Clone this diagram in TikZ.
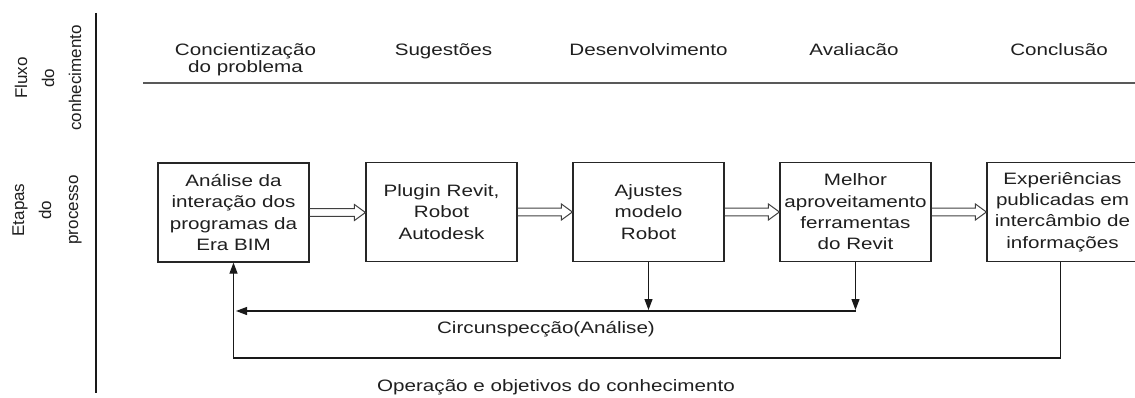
\documentclass[tikz,border=0pt]{standalone}
\usepackage{fontspec}
\setmainfont[FakeStretch=1.25]{Liberation Sans}
\newfontfamily\rotfont{Liberation Sans}
\usetikzlibrary{calc,arrows.meta}
\begin{document}
\begin{tikzpicture}[x=1pt,y=-1pt,
  every node/.style={text=black!88, inner sep=0pt},
  txt/.style={font=\fontsize{16.5}{16.7}\selectfont},
  stage/.style={draw=black!85, line width=1.2pt, minimum width=151pt,
    minimum height=99pt, align=center, font=\fontsize{16.5}{21.3}\selectfont},
  side/.style={rotate=90, align=center, font=\rotfont\fontsize{17}{27}\selectfont},
  hollow/.style={draw=black!75, line width=1pt, line join=miter,
    to path={let \p1=(\tikztostart), \p2=(\tikztotarget) in
      (\x1,\y1+3.8pt) -- (\x2-11pt,\y1+3.8pt) -- (\x2-11pt,\y1+8pt) -- (\x2,\y1)
      -- (\x2-11pt,\y1-8pt) -- (\x2-11pt,\y1-3.8pt) -- (\x1,\y1-3.8pt)}},
  arr/.style={draw=black!90, line width=1.2pt, -{Triangle[width=8pt,length=11pt]}},
  rule/.style={draw=black!65, line width=2pt},
  axis/.style={draw=black!90, line width=2pt}
]
\useasboundingbox (0,0) rectangle (1135,398);
\clip (0,0) rectangle (1135,398);

% left axis with its two rotated labels
\coordinate (vt) at (96,13);
\coordinate (vb) at (96,393);
\draw[axis] (vt) -- (vb);
\node[side] (flux) at (48,78) {Fluxo\\do\\conhecimento};
\node[side] (etap) at (47,210) {Etapas\\do\\processo};

% phase headings and their rule
\node[txt, anchor=base, align=center] (h1) at (245.5,72.5) {Concientização\\do problema};
\node[txt, anchor=base] (h2) at (443.5,56) {Sugestões};
\node[txt, anchor=base] (h3) at (648.5,56) {Desenvolvimento};
\node[txt, anchor=base] (h4) at (854,56) {Avaliacão};
\node[txt, anchor=base] (h5) at (1059,56) {Conclusão};
\coordinate (rl) at (143,83);
\coordinate (rr) at (1135,83);
\draw[rule] (rl) -- (rr);

% process steps
\node[stage] (b1) at (233.5,212.5) {Análise da\\interação dos\\programas da\\Era BIM};
\node[stage] (b2) at (441.5,212) {Plugin Revit,\\Robot\\Autodesk};
\node[stage] (b3) at (648.5,212) {Ajustes\\modelo\\Robot};
\node[stage] (b4) at (855.5,212) {Melhor\\aproveitamento\\ferramentas\\do Revit};
\node[stage] (b5) at (1062.5,212) {Experiências\\publicadas em\\intercâmbio de\\informações};

\draw[hollow] (b1.east) to (b2.west);
\draw[hollow] (b2.east) to (b3.west);
\draw[hollow] (b3.east) to (b4.west);
\draw[hollow] (b4.east) to (b5.west);

% feedback loops
\coordinate (fbl) at (236,311);
\coordinate (bot) at (0,358);
\draw[arr, shorten >=1pt] (b3.south) -- (b3.south |- fbl);
\draw[arr, shorten >=1pt] (b4.south) -- (b4.south |- fbl);
\draw[arr] (b4.south |- fbl) -- (fbl);
\draw[arr] ([xshift=-2pt]b5.south) -- ([xshift=-2pt]b5.south |- bot) -- (b1.south |- bot) -- (b1.south);

\node[txt, anchor=base] (circ) at (546,333) {Circunspecção(Análise)};
\node[txt, anchor=base] (oper) at (556,391) {Operação e objetivos do conhecimento};
\end{tikzpicture}
\end{document}
